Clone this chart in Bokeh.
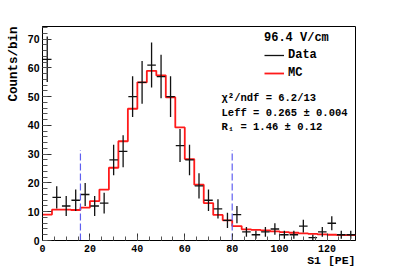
import numpy as np
from bokeh.plotting import figure
from bokeh.models import Range1d, FixedTicker, Label, Legend, LegendItem, Title
from bokeh.embed import file_html
from bokeh.resources import INLINE

# ---- data ----
bin_width = 4
bin_edges = list(range(0, 133, 4))            # 0 .. 132
bin_centers = list(range(2, 131, 4))          # 2 .. 130
data_counts = [63, 15, 12, 14, 16, 12, 13, 28, 31, 50, 55, 61, 57, 50, 33, 28, 19,
               14, 11, 7, 9, 3, 2, 3, 4, 2, 2, 5, 1, 3, 6, 2, 2]
mc_counts = [9.0, 10.7, 10.7, 10.6, 11.4, 13.7, 17.7, 25.3, 34.5, 45.8, 55.0, 59.0,
             57.4, 49.8, 39.3, 28.3, 19.4, 13.0, 8.9, 7.0, 5.0, 3.9, 3.7, 3.5, 3.2,
             2.9, 2.7, 2.5, 2.3, 2.1, 2.0, 1.9, 1.9]
cut_x = [16, 80]
cut_top = 31.5
field_label = "96.4 V/cm"
series_names = ["Data", "MC"]
stats_lines = ["\u03c7\u00b2/ndf = 6.2/13", "Leff = 0.265 \u00b1 0.004", "R\u2081 = 1.46 \u00b1 0.12"]
stats_y = [49.4, 44.5, 39.6]
x_ticks = [0, 20, 40, 60, 80, 100, 120]
y_ticks = [0, 10, 20, 30, 40, 50, 60, 70]
x_title = "S1 [PE]"
y_title = "Counts/bin"

MONO = "Liberation Mono"
SANS = "Liberation Sans"

p = figure(width=395, height=267, x_range=Range1d(0, 132), y_range=Range1d(0, 74.4),
           output_backend="svg", toolbar_location=None,
           min_border_left=39, min_border_right=40, min_border_top=26, min_border_bottom=27)
p.xgrid.visible = False
p.ygrid.visible = False
p.outline_line_color = "black"
p.outline_line_alpha = 1.0
p.outline_line_width = 1
p.background_fill_color = "white"
p.border_fill_color = "white"

p.xaxis.ticker = FixedTicker(ticks=x_ticks, minor_ticks=list(range(0, 133, 5)))
p.yaxis.ticker = FixedTicker(ticks=y_ticks, minor_ticks=list(range(0, 75, 2)))
for ax in (p.xaxis, p.yaxis):
    ax.major_tick_out = 0
    ax.minor_tick_out = 0
    ax.axis_line_color = "black"
    ax.major_tick_line_color = "#333333"
    ax.minor_tick_line_color = "#555555"
    ax.major_label_text_color = "black"
    ax.major_label_text_font_style = "bold"
p.yaxis.major_tick_in = 9
p.yaxis.minor_tick_in = 5
p.xaxis.major_tick_in = 7
p.xaxis.minor_tick_in = 4
p.yaxis.major_label_text_font = SANS
p.yaxis.major_label_text_font_size = "10.5px"
p.yaxis.major_label_standoff = 3
p.xaxis.major_label_text_font = MONO
p.xaxis.major_label_text_font_size = "10px"
p.xaxis.major_label_standoff = 4

# axis titles (ROOT style: at the end of the axis)
p.add_layout(Title(text=x_title, align="right", text_font=MONO, text_font_style="bold",
                   text_font_size="11.5px", text_color="black", standoff=-6), "below")
p.add_layout(Title(text=y_title, align="right", text_font=MONO, text_font_style="bold",
                   text_font_size="12.5px", text_color="black", standoff=8), "left")

# MC histogram
mc_x = bin_edges
mc_y = mc_counts + [mc_counts[-1]]
r_mc = p.step(x=mc_x, y=mc_y, mode="after", line_color="#ff1a1a", line_width=1.8)

# Data crosses with Poisson errors
c = np.array(bin_centers, dtype=float)
n = np.array(data_counts, dtype=float)
err = np.sqrt(n)
half = 0.45 * bin_width
r_data = p.segment(x0=c, x1=c, y0=n - err, y1=n + err, line_color="#111111", line_width=1.3)
p.segment(x0=c - half, x1=c + half, y0=n, y1=n, line_color="#111111", line_width=1.3)

# cut lines
p.segment(x0=cut_x, x1=cut_x, y0=[0] * len(cut_x), y1=[cut_top] * len(cut_x),
          line_color="#6060f0", line_width=1.2, line_dash="7 3")

legend = Legend(items=[LegendItem(label=series_names[0], renderers=[r_data]),
                       LegendItem(label=series_names[1], renderers=[r_mc])],
                title=field_label, location=(222, 160), margin=0, padding=0,
                spacing=4, glyph_width=20, glyph_height=14, label_height=14,
                label_standoff=4, title_standoff=3,
                background_fill_alpha=0, border_line_alpha=0,
                label_text_font=MONO, label_text_font_style="bold", label_text_font_size="12px",
                title_text_font=MONO, title_text_font_style="bold", title_text_font_size="12px",
                title_text_color="black", label_text_color="black")
p.add_layout(legend)

for txt, yy in zip(stats_lines, stats_y):
    p.add_layout(Label(x=75.5, y=yy, text=txt, text_align="left", text_baseline="middle",
                       text_font=MONO, text_font_style="bold", text_font_size="10.5px",
                       text_color="black"))

open("out.html", "w").write(file_html(p, INLINE))
